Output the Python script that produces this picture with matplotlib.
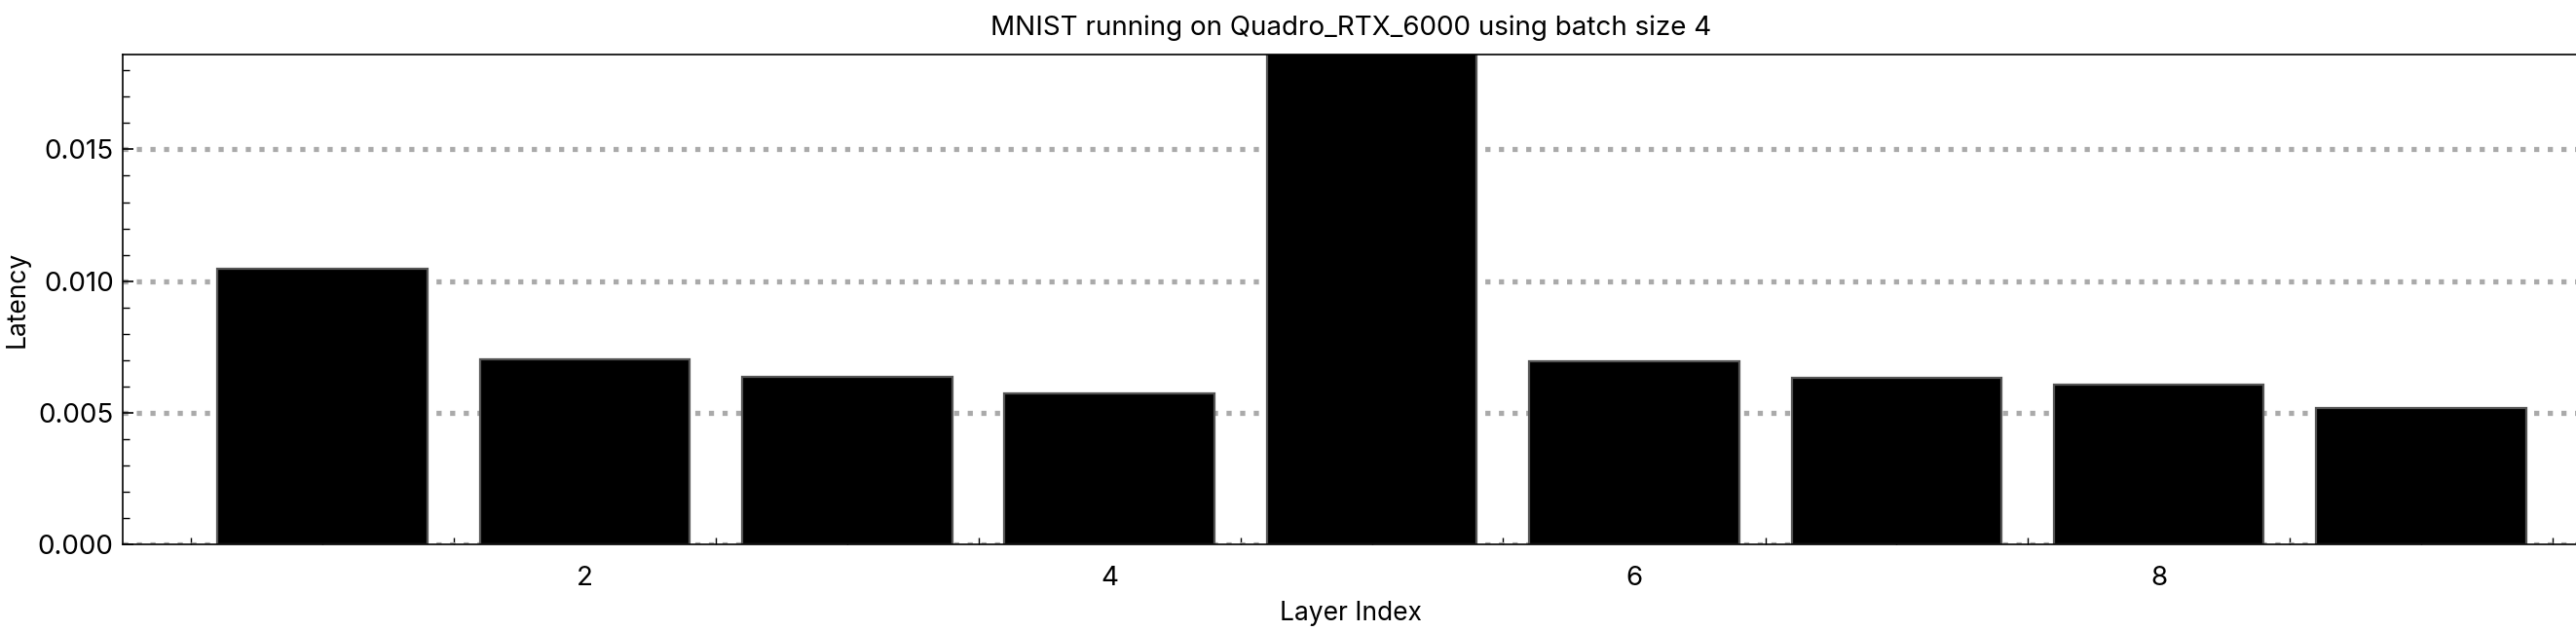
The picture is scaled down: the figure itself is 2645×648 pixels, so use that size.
import matplotlib
matplotlib.use("Agg")
import matplotlib.pyplot as plt
from matplotlib.ticker import AutoMinorLocator, MultipleLocator

plt.rcParams['font.family'] = ['Inter', 'DejaVu Sans']

layers = [1, 2, 3, 4, 5, 6, 7, 8, 9]
latency = [0.01046, 0.00703, 0.00636, 0.00574, 0.0196, 0.00696, 0.00632, 0.00605, 0.00517]

fig = plt.figure(figsize=(13.225, 3.24), dpi=200)
ax = fig.add_axes([0.0478, 0.138, 0.9532, 0.776])

ax.bar(layers, latency, width=0.8, color='black', edgecolor='#555555', linewidth=0.8, zorder=2)

ax.set_xlim(0.24, 9.6)
ax.set_ylim(0, 0.01862)
ax.set_xticks([2, 4, 6, 8])
ax.yaxis.set_major_locator(MultipleLocator(0.005))
ax.xaxis.set_minor_locator(AutoMinorLocator(4))
ax.yaxis.set_minor_locator(AutoMinorLocator(5))
ax.tick_params(which='both', direction='in', labelsize=10)
ax.tick_params(which='major', length=4, width=0.6)
ax.tick_params(which='minor', length=2.5, width=0.5)
ax.tick_params(axis='x', which='major', pad=8)
for s in ax.spines.values():
    s.set_linewidth(0.6)

ax.set_axisbelow(True)
ax.yaxis.grid(True, linestyle=':', color='#aaaaaa', linewidth=1.9)

ax.set_title('MNIST running on Quadro_RTX_6000 using batch size 4', fontsize=10, pad=7)
ax.set_xlabel('Layer Index', fontsize=9.5, labelpad=3.5)
ax.set_ylabel('Latency', fontsize=9.5, labelpad=3)

fig.savefig('out.png', dpi=200)
